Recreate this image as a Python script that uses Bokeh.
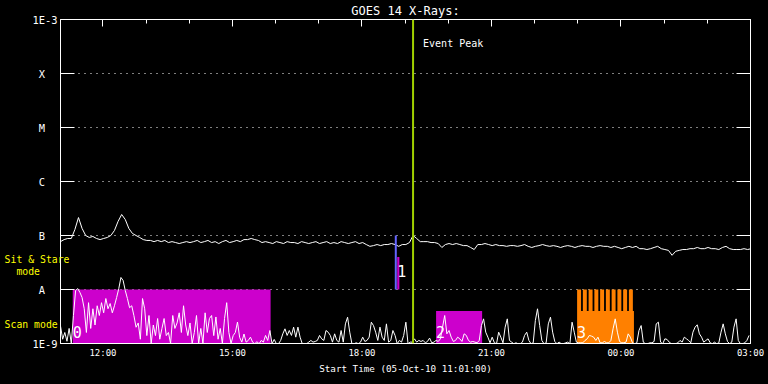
import numpy as np
import pandas as pd
from bokeh.plotting import figure
from bokeh.core.properties import value
from bokeh.models import (Range1d, FixedTicker, DatetimeAxis, LogAxis, DatetimeTickFormatter,
                          CustomJSTickFormatter, Span, Label, ColumnDataSource,
                          GlobalInlineStyleSheet)
from bokeh.embed import file_html
from bokeh.resources import INLINE

# ---------------------------------------------------------------- data
t_start = "2010-10-05 11:01:00"
t_end = "2010-10-06 03:00:00"

# GOES 14 long channel (1-8 A), 5-min samples, units of 1e-8 W/m^2
long_cadence = "5min"
long_flux = [
    7.7, 8.4, 8.8, 8.8, 12.9, 21.5, 13.5, 10.0, 9.2, 9.6,
    8.8, 8.4, 8.8, 9.2, 10.0, 12.4, 18.2, 24.5, 19.8, 13.5,
    10.9, 10.0, 9.2, 8.4, 8.1, 8.1, 7.7, 8.1, 7.7, 8.1,
    7.4, 7.7, 7.4, 7.1, 7.4, 7.7, 7.4, 7.7, 8.1, 7.4,
    7.7, 8.1, 7.4, 7.7, 7.1, 7.7, 8.1, 7.4, 7.7, 8.1,
    7.7, 8.4, 8.4, 8.8, 8.4, 8.1, 7.4, 7.7, 7.4, 7.1,
    7.7, 7.4, 7.1, 7.7, 7.4, 7.4, 7.1, 7.7, 7.4, 7.1,
    7.4, 7.7, 7.1, 7.4, 7.7, 7.1, 7.4, 7.1, 7.7, 7.4,
    7.1, 7.4, 7.7, 7.1, 7.4, 6.8, 6.3, 6.5, 6.8, 6.5,
    6.8, 6.8, 7.1, 6.8, 6.3, 6.8, 6.8, 7.4, 10.0, 8.8,
    7.7, 7.7, 7.7, 7.4, 7.4, 7.1, 6.0, 6.8, 7.1, 6.8,
    7.1, 6.8, 6.5, 6.5, 6.0, 5.5, 6.8, 6.8, 7.1, 6.8,
    6.5, 6.8, 6.5, 6.5, 6.3, 6.5, 6.5, 6.3, 6.5, 6.8,
    6.3, 6.0, 6.3, 6.5, 6.8, 6.5, 6.3, 6.5, 6.3, 6.0,
    6.3, 6.5, 6.3, 6.0, 6.3, 6.5, 6.3, 6.3, 6.0, 6.3,
    6.5, 6.3, 6.3, 6.0, 6.3, 6.0, 5.7, 6.0, 6.3, 6.0,
    6.3, 5.7, 5.7, 5.5, 5.7, 6.0, 6.3, 5.7, 5.5, 5.3,
    4.3, 5.1, 5.3, 5.5, 5.5, 5.7, 5.7, 6.0, 5.7, 5.7,
    6.0, 5.7, 5.7, 5.5, 6.0, 6.3, 5.7, 5.5, 5.5, 5.5,
    5.7, 5.5, 5.7,
]

# GOES 14 short channel (0.5-4 A), 3-min samples, units of 1e-9 W/m^2
short_cadence = "3min"
short_flux = [
    2.1, 1.2, 1.6, 1.1, 1.9, 1.0, 3.3, 9.6, 10.4, 8.8, 7.1, 4.4,
    1.6, 5.7, 1.9, 4.4, 2.2, 5.0, 3.3, 5.7, 3.7, 6.8, 4.4, 5.5,
    3.7, 5.0, 7.1, 10.4, 16.7, 14.7, 9.6, 6.8, 4.6, 5.0, 3.3, 2.0,
    2.4, 1.2, 6.8, 4.4, 1.4, 3.3, 1.0, 2.2, 1.4, 2.9, 1.2, 1.9,
    2.9, 1.4, 1.6, 1.0, 3.3, 1.9, 2.4, 3.7, 1.6, 5.0, 2.2, 1.4,
    2.4, 1.0, 1.6, 3.3, 1.0, 1.9, 1.0, 3.7, 1.6, 2.9, 3.3, 1.4,
    3.1, 1.2, 1.9, 1.0, 2.9, 5.7, 1.6, 1.0, 1.4, 1.6,
    2.5, 1.3, 1.06, 1.5, 1.06, 1.14, 1.31, 1.06, 0.99, 1.08, 0.99, 1.14,
    1.06, 1.41, 1.14, 1.74, 0.99, 1.19, 0.99, 0.99, 1.14, 1.51, 1.87, 1.41,
    1.74, 1.41, 2.01, 1.31, 2.01, 1.31, 0.99, 0.99, 0.99, 1.06, 1.14, 1.06,
    1.09, 1.14, 1.41, 1.22, 1.14, 1.74, 1.62, 1.41, 1.06, 1.51, 1.14, 1.06,
    1.74, 1.06, 2.31, 3.07, 1.62, 0.99, 0.99, 1.03, 0.99, 1.06, 1.31, 1.09,
    1.14, 1.31, 2.48, 2.15, 1.62, 1.14, 2.01, 1.31, 1.14, 2.31, 1.06, 1.14,
    1.74, 1.41, 0.99, 1.14, 1.06, 1.41, 2.48, 0.99, 1.06,
    1.06, 1.22, 1.06, 1.14, 1.09, 1.14, 1.03, 1.09, 1.26, 1.03, 1.06, 1.14,
    1.09, 1.22, 2.01, 3.30, 1.51, 1.74, 1.31, 1.09, 1.14, 1.31, 1.22, 1.09,
    1.51, 1.41, 1.14, 1.06, 1.09, 1.06, 1.03, 1.14, 2.15, 2.86, 1.62, 1.31,
    1.03, 1.31, 1.03, 0.99, 1.62, 1.31, 1.03, 2.01, 2.86, 1.14, 1.06, 0.99,
    1.03, 0.99, 0.99, 1.06, 1.41, 1.62, 1.14, 0.99, 1.03, 2.67, 4.39, 2.15,
    1.14, 0.99, 1.03, 2.31, 3.07, 1.62, 1.09, 0.99, 1.06, 0.99, 0.99, 1.03,
    1.06, 0.99, 2.48, 1.62, 1.06,
    1.03, 1.03, 1.03, 1.14, 1.22, 1.41, 1.37, 1.31, 1.14, 1.31, 1.03, 1.03,
    1.09, 1.03, 1.03, 1.14, 1.87, 2.86, 1.62, 1.09, 1.03, 1.03, 1.06, 1.51,
    1.31, 1.03, 0.99, 1.03, 1.74, 2.15, 1.06, 0.99, 0.99, 1.03, 1.03, 1.09,
    2.31, 2.48, 1.06, 0.99, 1.22, 1.19, 1.06, 0.99, 0.99, 0.99, 1.03, 1.14,
    1.06, 1.31, 1.22, 1.14, 1.03, 1.62, 2.01, 2.22, 1.51, 1.31, 1.06, 1.14,
    1.22, 1.03, 0.99, 1.06, 0.99, 1.03, 1.62, 2.31, 1.51, 1.09, 0.99, 1.06,
    2.01, 2.86, 1.14, 0.99, 0.99, 1.03, 1.14, 1.41,
]

y_ticks = [1e-9, 1e-8, 1e-7, 1e-6, 1e-5, 1e-4, 1e-3]
y_tick_labels = ["1E-9", "A", "B", "C", "M", "X", "1E-3"]
x_tick_times = ["2010-10-05 12:00", "2010-10-05 15:00", "2010-10-05 18:00",
                "2010-10-05 21:00", "2010-10-06 00:00", "2010-10-06 03:00"]

# instrument observing-mode intervals
mode_labels = ["0", "1", "2", "3"]
mode_start = ["2010-10-05 11:18", "2010-10-05 18:49", "2010-10-05 19:43", "2010-10-05 22:59"]
mode_end = ["2010-10-05 15:53", "2010-10-05 18:52", "2010-10-05 20:47", "2010-10-06 00:18"]
mode_low = [1e-9, 1e-8, 1e-9, 1e-9]
mode_high = [1e-8, 4e-8, 4e-9, 4e-9]

teeth_start = ["2010-10-05 22:59", "2010-10-05 23:07", "2010-10-05 23:15", "2010-10-05 23:23",
               "2010-10-05 23:31", "2010-10-05 23:39", "2010-10-05 23:47", "2010-10-05 23:55",
               "2010-10-06 00:03", "2010-10-06 00:11"]
teeth_minutes = 5.5
teeth_low, teeth_high = 4e-9, 1e-8

pointing_time = "2010-10-05 18:47"
pointing_low, pointing_high = 1e-8, 1e-7

event_peak = "2010-10-05 19:11"

# legend texts of the mode rows (left margin)
mode_row_texts = ["Sit & Stare", "mode", "Scan mode"]

# ---------------------------------------------------------------- styles
FONT = "DejaVu Sans Mono"
MAGENTA = "#cc00cc"
ORANGE = "#ff8000"
BLUE = "#6464ff"
GREEN = "#a0d000"
YELLOW = "#ffff00"
NBSP = "\u00a0"
mode_colors = [MAGENTA, MAGENTA, MAGENTA, ORANGE]
mode_label_dy = [-6, -13, -6, -6]
row_text_anchor = [3.6e-8, 2.15e-8, 2.25e-9]   # vertical anchors of the margin texts
row_text_lead = [0, 2, 0]                       # leading blanks (monospace cells)
ROW_CELLS = 11


def ms(ts):
    return pd.Timestamp(ts).value / 1e6


def center_pad(s, n):
    extra = n - len(s)
    lead = extra // 2
    return NBSP * lead + s + NBSP * (extra - lead)


LOOKUP_JS = """
for (let i = 0; i < vals.length; i++) {
    if (Math.abs(Math.log10(vals[i]) - Math.log10(tick)) < 1e-6) return labels[i];
}
return '';
"""

long_t = pd.date_range(t_start, periods=len(long_flux), freq=long_cadence)
long_y = np.array(long_flux) * 1e-8
short_t = pd.date_range(t_start, periods=len(short_flux), freq=short_cadence)
short_y = np.array(short_flux) * 1e-9

p = figure(width=768, height=384, x_axis_type="datetime", y_axis_type="log",
           x_range=Range1d(ms(t_start), ms(t_end)), y_range=Range1d(1e-9, 1e-3),
           output_backend="svg", toolbar_location=None,
           background_fill_color="black", border_fill_color="black",
           min_border_left=60, min_border_right=18, min_border_top=19, min_border_bottom=41)
p.outline_line_color = "white"
p.outline_line_width = 1
p.stylesheets.append(GlobalInlineStyleSheet(css="html, body { background-color: #000000; }"))

# title
p.title.text = "GOES 14 X-Rays:"
p.title.text_color = "white"
p.title.text_font = FONT
p.title.text_font_size = "12px"
p.title.text_font_style = "normal"
p.title.align = "center"
p.title.standoff = 3
p.title.offset = -3

# grids
p.xgrid.visible = False
p.ygrid.ticker = FixedTicker(ticks=y_ticks[1:-1])
p.ygrid.grid_line_color = "white"
p.ygrid.grid_line_dash = "1 5"
p.ygrid.grid_line_width = 1

# bottom axis
xt_ms = [ms(t) for t in x_tick_times]
minor_ms = [ms(t) for t in pd.date_range("2010-10-05 11:00", "2010-10-06 03:00", freq="1h")]
bx = p.below[0]
bx.ticker = FixedTicker(ticks=xt_ms)
fmt = "%H:%M"
bx.formatter = DatetimeTickFormatter(seconds=fmt, minsec=fmt, minutes=fmt, hourmin=fmt,
                                     hours=fmt, days=fmt, months=fmt, years=fmt)
bx.major_tick_in = 0
bx.major_tick_out = 0
bx.minor_tick_in = 0
bx.minor_tick_out = 0
bx.major_tick_line_color = None
bx.minor_tick_line_color = None
bx.axis_line_color = "white"
bx.major_label_text_color = "white"
bx.major_label_text_font = FONT
bx.major_label_text_font_size = "9px"
bx.major_label_standoff = 4
bx.axis_label = "Start Time (05-Oct-10 11:01:00)"
bx.axis_label_text_color = "white"
bx.axis_label_text_font = FONT
bx.axis_label_text_font_size = "9.25px"
bx.axis_label_text_font_style = "normal"
bx.axis_label_standoff = 2

# top axis: ticks only
tx = DatetimeAxis(ticker=FixedTicker(ticks=xt_ms, minor_ticks=minor_ms),
                  formatter=CustomJSTickFormatter(code="return ''"),
                  major_tick_in=7, major_tick_out=0, minor_tick_in=4, minor_tick_out=0,
                  major_tick_line_color="white", minor_tick_line_color="white",
                  axis_line_color="white", major_label_standoff=0,
                  major_label_text_font_size="1px")
p.add_layout(tx, "above")

# left axis: class letters
ly = p.left[0]
ly.ticker = FixedTicker(ticks=y_ticks)
ly.formatter = CustomJSTickFormatter(
    args=dict(vals=y_ticks, labels=[center_pad(s, 4) for s in y_tick_labels]),
    code=LOOKUP_JS)
ly.major_tick_in = 14
ly.major_tick_out = 0
ly.minor_tick_in = 0
ly.minor_tick_out = 0
ly.major_tick_line_color = "white"
ly.minor_tick_line_color = None
ly.axis_line_color = "white"
ly.major_label_text_color = "white"
ly.major_label_text_font = FONT
ly.major_label_text_font_size = "10.4px"
ly.major_label_standoff = 3

# second left axis: yellow mode-row texts
row_labels = [NBSP * lead + s + NBSP * (ROW_CELLS - lead - len(s))
              for s, lead in zip(mode_row_texts, row_text_lead)]
my = LogAxis(ticker=FixedTicker(ticks=row_text_anchor),
             formatter=CustomJSTickFormatter(
                 args=dict(vals=row_text_anchor, labels=row_labels), code=LOOKUP_JS),
             major_tick_in=0, major_tick_out=0, minor_tick_in=0, minor_tick_out=0,
             major_tick_line_color=None, minor_tick_line_color=None, axis_line_color=None,
             major_label_standoff=-40, major_label_text_color=YELLOW,
             major_label_text_font=FONT, major_label_text_font_size="9.8px")
p.add_layout(my, "left")

# right axis: ticks only
ry = LogAxis(ticker=FixedTicker(ticks=y_ticks),
             formatter=CustomJSTickFormatter(code="return ''"),
             major_tick_in=14, major_tick_out=0, minor_tick_in=0, minor_tick_out=0,
             major_tick_line_color="white",
             minor_tick_line_color=None, axis_line_color="white",
             major_label_standoff=0, major_label_text_font_size="1px")
p.add_layout(ry, "right")

# observing-mode bars
modes = ColumnDataSource(dict(
    left=pd.to_datetime(mode_start), right=pd.to_datetime(mode_end),
    bottom=mode_low, top=mode_high, color=mode_colors,
    label=mode_labels, dy=mode_label_dy))
p.quad(left="left", right="right", bottom="bottom", top="top", source=modes,
       fill_color="color", line_color=None)

t_left = pd.to_datetime(teeth_start)
t_right = t_left + pd.Timedelta(minutes=teeth_minutes)
p.quad(left=t_left, right=t_right, bottom=teeth_low, top=teeth_high,
       fill_color=ORANGE, line_color=None)

# flux curves
p.line(long_t, long_y, line_color="white", line_width=1)
p.line(short_t, short_y, line_color="white", line_width=1)

# pointing marker
pt = pd.to_datetime([pointing_time])
p.segment(x0=pt, y0=[pointing_low], x1=pt, y1=[pointing_high],
          line_color=BLUE, line_width=2)

# mode numbers
p.text(x="left", y="bottom", text="label", source=modes, y_offset="dy",
       text_color="white", text_font_size="15px", text_font=value(FONT),
       text_baseline="bottom", text_align="left")

p.add_layout(Span(location=ms(event_peak), dimension="height",
                  line_color=GREEN, line_width=2))
p.add_layout(Label(x=ms(event_peak), x_units="data", y=300, y_units="screen", x_offset=10,
                   text="Event Peak", text_color="white", text_font=FONT,
                   text_font_size="10px", text_baseline="middle", text_align="left"))

open("out.html", "w").write(file_html(p, INLINE))
